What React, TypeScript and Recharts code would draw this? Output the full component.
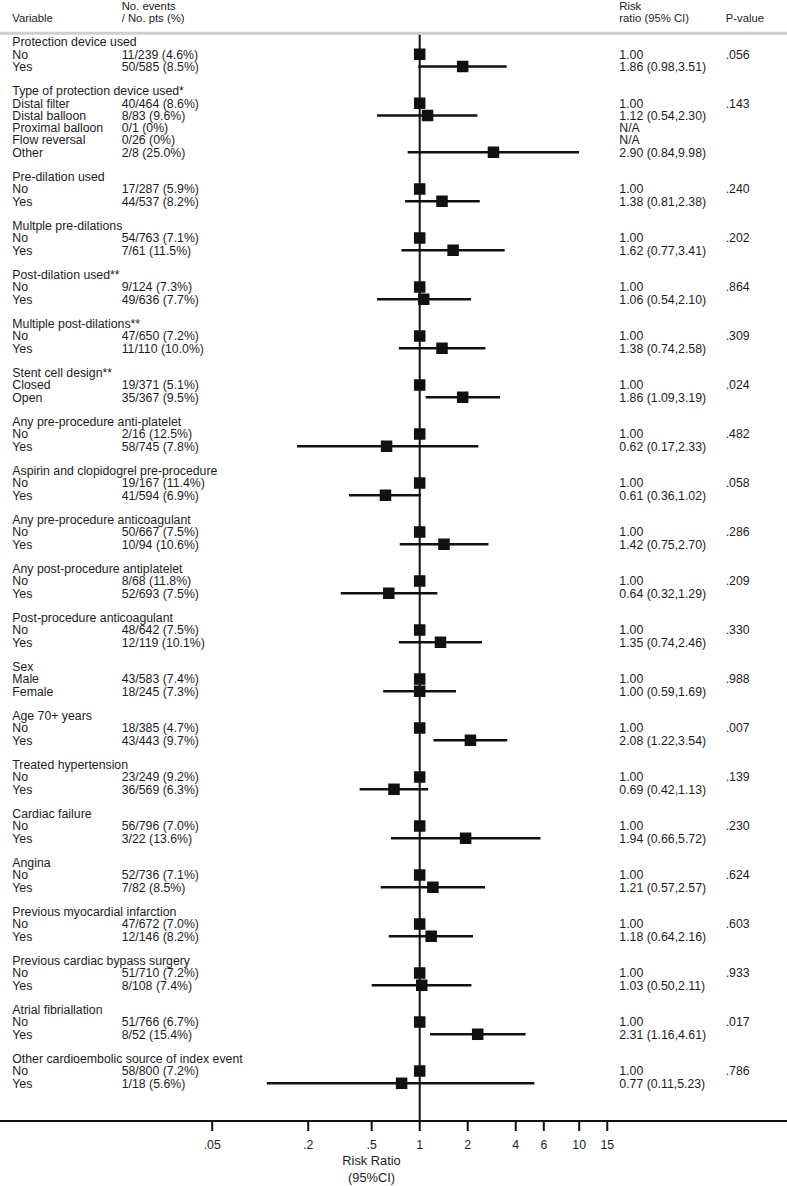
import React from 'react';
import { ScatterChart, Scatter, XAxis, YAxis, ReferenceLine, ErrorBar } from 'recharts';

const groupTitles = [
  'Protection device used',
  'Type of protection device used*',
  'Pre-dilation used',
  'Multple pre-dilations',
  'Post-dilation used**',
  'Multiple post-dilations**',
  'Stent cell design**',
  'Any pre-procedure anti-platelet',
  'Aspirin and clopidogrel pre-procedure',
  'Any pre-procedure anticoagulant',
  'Any post-procedure antiplatelet',
  'Post-procedure anticoagulant',
  'Sex',
  'Age 70+ years',
  'Treated hypertension',
  'Cardiac failure',
  'Angina',
  'Previous myocardial infarction',
  'Previous cardiac bypass surgery',
  'Atrial fibriallation',
  'Other cardioembolic source of index event',
];
const groupSizes = [2, 5, 2, 2, 2, 2, 2, 2, 2, 2, 2, 2, 2, 2, 2, 2, 2, 2, 2, 2, 2];
const groupPValues = ['.056', '.143', '.240', '.202', '.864', '.309', '.024', '.482', '.058', '.286', '.209', '.330', '.988', '.007', '.139', '.230', '.624', '.603', '.933', '.017', '.786'];

const itemLabels = [
  'No', 'Yes',
  'Distal filter', 'Distal balloon', 'Proximal balloon', 'Flow reversal', 'Other',
  'No', 'Yes', 'No', 'Yes', 'No', 'Yes', 'No', 'Yes',
  'Closed', 'Open',
  'No', 'Yes', 'No', 'Yes', 'No', 'Yes', 'No', 'Yes', 'No', 'Yes',
  'Male', 'Female',
  'No', 'Yes', 'No', 'Yes', 'No', 'Yes', 'No', 'Yes', 'No', 'Yes', 'No', 'Yes', 'No', 'Yes', 'No', 'Yes',
];
const itemCounts = [
  '11/239 (4.6%)', '50/585 (8.5%)',
  '40/464 (8.6%)', '8/83 (9.6%)', '0/1 (0%)', '0/26 (0%)', '2/8 (25.0%)',
  '17/287 (5.9%)', '44/537 (8.2%)',
  '54/763 (7.1%)', '7/61 (11.5%)',
  '9/124 (7.3%)', '49/636 (7.7%)',
  '47/650 (7.2%)', '11/110 (10.0%)',
  '19/371 (5.1%)', '35/367 (9.5%)',
  '2/16 (12.5%)', '58/745 (7.8%)',
  '19/167 (11.4%)', '41/594 (6.9%)',
  '50/667 (7.5%)', '10/94 (10.6%)',
  '8/68 (11.8%)', '52/693 (7.5%)',
  '48/642 (7.5%)', '12/119 (10.1%)',
  '43/583 (7.4%)', '18/245 (7.3%)',
  '18/385 (4.7%)', '43/443 (9.7%)',
  '23/249 (9.2%)', '36/569 (6.3%)',
  '56/796 (7.0%)', '3/22 (13.6%)',
  '52/736 (7.1%)', '7/82 (8.5%)',
  '47/672 (7.0%)', '12/146 (8.2%)',
  '51/710 (7.2%)', '8/108 (7.4%)',
  '51/766 (6.7%)', '8/52 (15.4%)',
  '58/800 (7.2%)', '1/18 (5.6%)',
];
const itemRR: (number | null)[] = [
  1, 1.86,
  1, 1.12, null, null, 2.90,
  1, 1.38, 1, 1.62, 1, 1.06, 1, 1.38, 1, 1.86, 1, 0.62, 1, 0.61, 1, 1.42,
  1, 0.64, 1, 1.35, 1, 1.00, 1, 2.08, 1, 0.69, 1, 1.94, 1, 1.21, 1, 1.18,
  1, 1.03, 1, 2.31, 1, 0.77,
];
const itemLow: (number | null)[] = [
  null, 0.98,
  null, 0.54, null, null, 0.84,
  null, 0.81, null, 0.77, null, 0.54, null, 0.74, null, 1.09, null, 0.17, null, 0.36, null, 0.75,
  null, 0.32, null, 0.74, null, 0.59, null, 1.22, null, 0.42, null, 0.66, null, 0.57, null, 0.64,
  null, 0.50, null, 1.16, null, 0.11,
];
const itemHigh: (number | null)[] = [
  null, 3.51,
  null, 2.30, null, null, 9.98,
  null, 2.38, null, 3.41, null, 2.10, null, 2.58, null, 3.19, null, 2.33, null, 1.02, null, 2.70,
  null, 1.29, null, 2.46, null, 1.69, null, 3.54, null, 1.13, null, 5.72, null, 2.57, null, 2.16,
  null, 2.11, null, 4.61, null, 5.23,
];

const headerLine1 = ['', 'No. events', 'Risk', ''];
const headerLine2 = ['Variable', '/ No. pts (%)', 'ratio (95% CI)', 'P-value'];

const xTicks = [0.05, 0.2, 0.5, 1, 2, 4, 6, 10, 15];
const xTickLabels = ['.05', '.2', '.5', '1', '2', '4', '6', '10', '15'];

// layout constants
const W = 787;
const H = 1186;
const AXIS_H = 65;
const X_DOMAIN: [number, number] = [0.002336, 200.9];
const Y_DOMAIN: [number, number] = [-3.4286, 88.08];
const COLS = [12.3, 121.7, 619.3, 725.7];
const FONT = '"Liberation Sans", Arial, Helvetica, sans-serif';
const FS = 12.3;
const HEADER_FS = 11.3;
const INK = '#1c1c1c';

type TextRow = { x: number; y: number; cells: string[]; fs?: number };
type Point = { x: number; y: number; err: [number, number] };

const textRows: TextRow[] = [
  { x: 1, y: -2.914, cells: headerLine1, fs: HEADER_FS },
  { x: 1, y: -1.992, cells: headerLine2, fs: HEADER_FS },
];
const points: Point[] = [];

(() => {
  let line = 0;
  let k = 0;
  groupTitles.forEach((title, g) => {
    textRows.push({ x: 1, y: line, cells: [title, '', '', ''] });
    for (let j = 0; j < groupSizes[g]; j++) {
      const l = line + 1 + j;
      const rr = itemRR[k];
      const lo = itemLow[k];
      const hi = itemHigh[k];
      const rrText = rr == null ? 'N/A' : lo == null || hi == null ? rr.toFixed(2) : `${rr.toFixed(2)} (${lo.toFixed(2)},${hi.toFixed(2)})`;
      textRows.push({ x: 1, y: l, cells: [itemLabels[k], itemCounts[k], rrText, j === 0 ? groupPValues[g] : ''] });
      if (rr != null) {
        points.push({ x: rr, y: l, err: [rr - (lo ?? rr), (hi ?? rr) - rr] });
      }
      k++;
    }
    line += groupSizes[g] + 2;
  });
})();

const TextShape = (props: any) => {
  const { cy } = props;
  const p = props.payload ?? props;
  const cells: string[] = p.cells || [];
  const fs = p.fs ?? FS;
  return (
    <g>
      {cells.map((c, i) =>
        c ? (
          <text key={i} x={COLS[i]} y={cy} dy="0.36em" fontSize={fs} fontFamily={FONT} fill={INK}>
            {c}
          </text>
        ) : null
      )}
    </g>
  );
};

const SquareShape = (props: any) => {
  const { cx, cy } = props;
  const s = 11.5;
  return <rect x={cx - s / 2} y={cy - s / 2} width={s} height={s} fill="#111" />;
};

const AxisTitle = (props: any) => {
  const vb = props.viewBox || { x: 0, y: H - AXIS_H };
  const cx = vb.x + 371.5;
  return (
    <g>
      <text x={cx} y={vb.y + 43.5} textAnchor="middle" fontSize={FS + 0.5} fontFamily={FONT} fill={INK}>
        Risk Ratio
      </text>
      <text x={cx} y={vb.y + 61} textAnchor="middle" fontSize={FS + 0.5} fontFamily={FONT} fill={INK}>
        (95%CI)
      </text>
    </g>
  );
};

export default function App() {
  return (
    <div style={{ position: 'absolute', left: 0, top: 0, width: W, height: H, background: '#fff' }}>
      <ScatterChart width={W} height={H} margin={{ top: 0, right: 0, bottom: 0, left: 0 }}>
        <XAxis
          type="number"
          dataKey="x"
          scale="log"
          domain={X_DOMAIN}
          allowDataOverflow
          ticks={xTicks}
          tickFormatter={(v: number) => xTickLabels[xTicks.indexOf(v)] ?? String(v)}
          interval={0}
          height={AXIS_H}
          axisLine={{ stroke: '#111', strokeWidth: 2 }}
          tickLine={{ stroke: '#111', strokeWidth: 2 }}
          tickSize={10}
          tickMargin={9}
          tick={{ fontSize: FS, fontFamily: FONT, fill: INK }}
          label={<AxisTitle />}
        />
        <YAxis type="number" dataKey="y" domain={Y_DOMAIN} reversed hide allowDataOverflow />
        <ReferenceLine y={-0.71} stroke="#cfcfcf" strokeWidth={3} />
        <ReferenceLine
          segment={[
            { x: 1, y: -0.6 },
            { x: 1, y: Y_DOMAIN[1] },
          ]}
          stroke="#111"
          strokeWidth={2}
        />
        <Scatter data={textRows} shape={<TextShape />} isAnimationActive={false} />
        <Scatter data={points} shape={<SquareShape />} isAnimationActive={false}>
          <ErrorBar dataKey="err" direction="x" width={0} stroke="#111" strokeWidth={2.5} />
        </Scatter>
      </ScatterChart>
    </div>
  );
}
